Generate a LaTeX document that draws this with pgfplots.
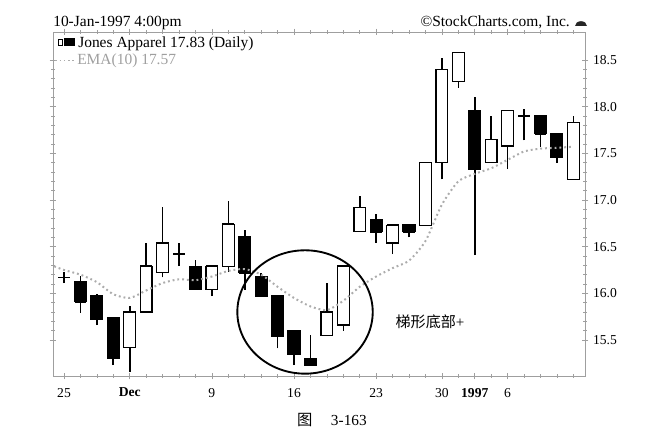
\documentclass[border=0pt]{standalone}
\usepackage{fontspec}
\setmainfont{Liberation Serif}
\newfontfamily\cjk{Noto Sans CJK SC}
\usepackage{pgfplots}
\usepackage{pgfplotstable}
\pgfplotsset{compat=1.18}

\pgfplotstableread{
x o h l c
0 16.17 16.23 16.11 16.17
1 16.12 16.19 15.79 15.91
2 15.98 15.99 15.66 15.72
3 15.74 15.75 15.23 15.30
4 15.42 15.86 15.16 15.80
5 15.80 16.54 15.79 16.29
6 16.22 16.92 16.17 16.54
7 16.42 16.54 16.29 16.42
8 16.29 16.36 16.04 16.04
9 16.04 16.29 15.97 16.29
10 16.29 16.99 16.23 16.74
11 16.61 16.68 16.04 16.22
12 16.18 16.22 15.97 15.97
13 15.98 15.98 15.41 15.54
14 15.60 15.60 15.23 15.35
15 15.30 15.55 15.23 15.23
16 15.55 16.11 15.55 15.80
17 15.66 16.29 15.60 16.29
18 16.66 17.04 16.66 16.92
19 16.79 16.85 16.54 16.66
20 16.54 16.73 16.42 16.73
21 16.74 16.74 16.60 16.66
22 16.73 17.40 16.73 17.40
23 17.40 18.52 17.22 18.40
24 18.27 18.58 18.20 18.58
25 17.96 18.10 16.41 17.33
26 17.40 17.90 17.40 17.65
27 17.58 17.96 17.33 17.96
28 17.90 17.97 17.64 17.90
29 17.90 17.90 17.57 17.71
30 17.71 17.71 17.40 17.46
31 17.22 17.90 17.22 17.83
}\candles

\pgfplotsset{
  base/.style={
    at={(39.75pt,47.25pt)}, anchor=south west,
    width=399pt, height=258pt, scale only axis,
    xmin=-0.67, xmax=31.71, ymin=15.114, ymax=18.80,
    enlargelimits=false,
  }
}

\begin{document}
\begin{tikzpicture}
\path[use as bounding box] (0,0) rectangle (501pt,329.25pt);

% axis 1: frame, ticks, wicks
\begin{axis}[base,
  axis line style={gray!75, line width=0.6pt},
  tick style={gray!75, line width=0.5pt},
  tick align=center,
  major tick length=5pt, minor tick length=2.5pt,
  xtick={0,4,9,14,19,23,25,27},
  xticklabels={25,\textbf{Dec},9,16,23,30,\textbf{1997},6},
  minor xtick={0,...,31},
  ytick={15.5,16,...,18.5},
  minor y tick num=4,
  yticklabel pos=right,
  xtick pos=both, ytick pos=both,
  /pgf/number format/assume math mode=true,
  yticklabel={\pgfmathprintnumber[fixed,fixed zerofill,precision=1]{\tick}},
  tick label style={font=\fontsize{10.2}{12}\selectfont, black},
  xticklabel style={yshift=-3pt},
]
% wicks (low to high)
\addplot[draw=none, mark=none,
  error bars/.cd, y dir=plus, y explicit, error mark=none,
  error bar style={draw=black, line width=1.2pt}]
  table[x=x, y=l, y error expr=\thisrow{h}-\thisrow{l}] {\candles};
% horizontal stroke at the close (visible for doji)
\addplot[draw=none, mark=none,
  error bars/.cd, x dir=both, x fixed=0.36, error mark=none,
  error bar style={draw=black, line width=1.2pt}]
  table[x=x, y=c] {\candles};
\end{axis}

% axis 2: candle bodies
\begin{axis}[base, hide axis, ybar stacked, bar width=0.72]
\addplot[draw=none, fill=none] table[x=x, y expr={min(\thisrow{o},\thisrow{c})}] {\candles};
\addplot[draw=black, fill=white, line width=1pt] table[x=x, y expr={max(\thisrow{c}-\thisrow{o},0)}] {\candles};
\addplot[draw=black, fill=black, line width=1pt] table[x=x, y expr={max(\thisrow{o}-\thisrow{c},0)}] {\candles};
\end{axis}

% axis 3: EMA and annotations
\begin{axis}[base, hide axis]
\addplot[gray!65, line width=1.5pt, dash pattern=on 1.4pt off 2.2pt, smooth, tension=0.4] coordinates {
(-0.6,16.29) (0,16.25) (1,16.20) (2,16.12) (3,15.99) (4,15.95) (5,16.03) (6,16.11) (7,16.15) (8,16.14) (9,16.18) (10,16.24) (11,16.26) (12,16.20) (13,16.07) (14,15.95) (15,15.86) (16,15.82) (17,15.92) (18,16.07) (19,16.18) (20,16.27) (21,16.35) (22,16.56) (23,16.95) (24,17.20) (25,17.28) (26,17.34) (27,17.43) (28,17.52) (29,17.55) (30,17.56) (31,17.57)
};
\draw[black, line width=1.4pt] (axis cs:14.67,15.80) ellipse [x radius=4.12, y radius=0.661];
\end{axis}

% header and legend texts
\node[anchor=base west, inner sep=0pt, font=\fontsize{11.6}{13}\selectfont] at (39.75pt,309.4pt) {10-Jan-1997 4:00pm};
\node[anchor=base east, inner sep=0pt, font=\fontsize{11.6}{13}\selectfont] at (427.5pt,309.4pt) {\textcopyright StockCharts.com, Inc.};
\fill[black!85] (431.25pt,309.75pt) arc[start angle=180, end angle=0, x radius=4.5pt, y radius=3.6pt] -- cycle;

\draw[black, line width=0.6pt, fill=white] (43.9pt,295.5pt) rectangle (47pt,300pt);
\fill[black] (48pt,294.8pt) rectangle (56pt,300.8pt);
\node[anchor=base west, inner sep=0pt, font=\fontsize{11.6}{13}\selectfont] at (58.5pt,293.25pt) {Jones Apparel 17.83 (Daily)};
\draw[gray!65, line width=1.2pt, dash pattern=on 1.2pt off 2pt] (41.5pt,284pt) -- (56pt,284pt);
\node[anchor=base west, inner sep=0pt, text=gray!75, font=\fontsize{11.6}{13}\selectfont] at (57.75pt,280.9pt) {EMA(10) 17.57};

\node[inner sep=0pt, font=\fontsize{11.3}{13}\selectfont] at (322.5pt,87.75pt) {{\cjk 梯形底部}+};
\node[inner sep=0pt, font=\fontsize{11.5}{13}\selectfont] at (249pt,14.25pt) {{\cjk 图}\hspace{1.2em}3-163};
\end{tikzpicture}
\end{document}
